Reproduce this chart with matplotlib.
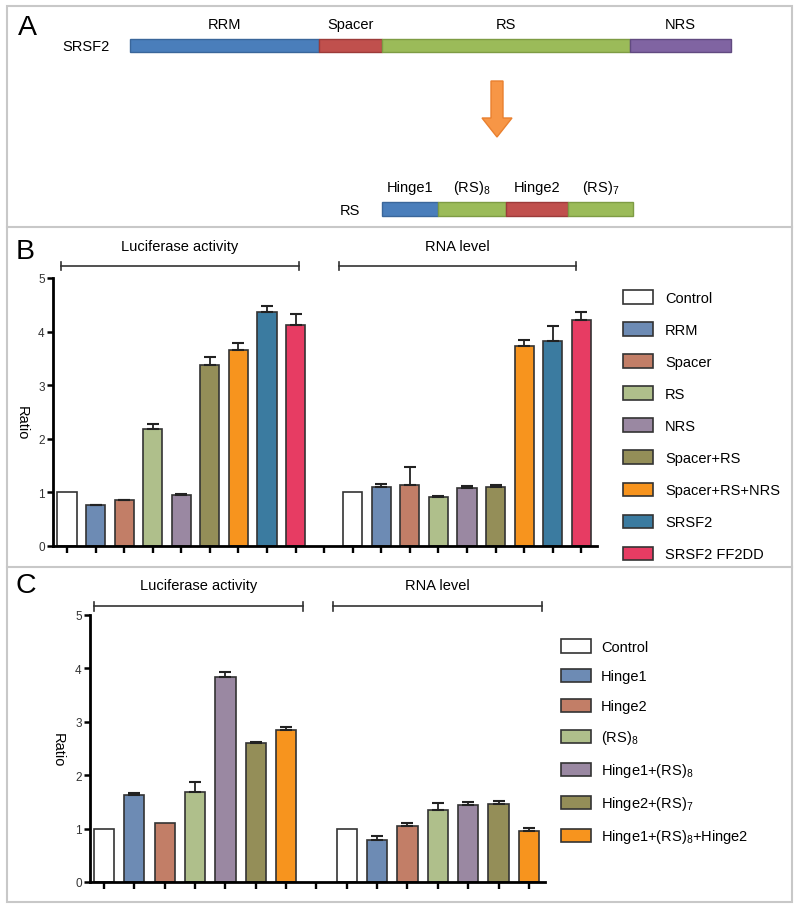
import matplotlib
matplotlib.use('Agg')
import matplotlib.pyplot as plt
from matplotlib.patches import Rectangle, FancyArrow
import numpy as np

plt.rcParams['font.family'] = ['Liberation Sans', 'DejaVu Sans']
plt.rcParams['mathtext.fontset'] = 'custom'
plt.rcParams['mathtext.rm'] = 'Liberation Sans'

# ---------------- data ----------------
# Panel A (relative domain lengths)
srsf2_domains = ['RRM', 'Spacer', 'RS', 'NRS']
srsf2_lengths = [189, 63, 248, 101]
rs_domains = ['Hinge1', '(RS)$_\\mathregular{8}$', 'Hinge2', '(RS)$_\\mathregular{7}$']
rs_lengths = [56, 68, 62, 65]

# Panel B
b_labels = ['Control', 'RRM', 'Spacer', 'RS', 'NRS', 'Spacer+RS',
            'Spacer+RS+NRS', 'SRSF2', 'SRSF2 FF2DD']
b_luc = [1.00, 0.76, 0.85, 2.18, 0.955, 3.37, 3.66, 4.37, 4.13]
b_luc_err = [0, 0.01, 0.01, 0.10, 0.01, 0.15, 0.12, 0.11, 0.20]
b_rna = [1.00, 1.10, 1.13, 0.905, 1.08, 1.10, 3.73, 3.83, 4.22]
b_rna_err = [0, 0.06, 0.35, 0.025, 0.04, 0.04, 0.11, 0.27, 0.14]

# Panel C
c_labels = ['Control', 'Hinge1', 'Hinge2', '(RS)$_\\mathregular{8}$',
            'Hinge1+(RS)$_\\mathregular{8}$', 'Hinge2+(RS)$_\\mathregular{7}$',
            'Hinge1+(RS)$_\\mathregular{8}$+Hinge2']
c_luc = [1.00, 1.625, 1.10, 1.69, 3.84, 2.60, 2.84]
c_luc_err = [0, 0.05, 0, 0.19, 0.10, 0.03, 0.06]
c_rna = [1.00, 0.78, 1.04, 1.34, 1.44, 1.47, 0.96]
c_rna_err = [0, 0.08, 0.06, 0.14, 0.05, 0.04, 0.05]

group_titles = ['Luciferase activity', 'RNA level']

# ---------------- styles ----------------
dom_colors = ['#4A7EBB', '#C0504D', '#9BBB59', '#8064A2']
dom_edges = ['#3A669A', '#9C3B39', '#7E9C44', '#614A80']
rs_colors = ['#4A7EBB', '#9BBB59', '#C0504D', '#9BBB59']
rs_edges = ['#3A669A', '#7E9C44', '#9C3B39', '#7E9C44']
b_colors = ['#FFFFFF', '#6D8BB4', '#C27E67', '#AFBF8B', '#9A88A2',
            '#948E58', '#F7941E', '#3B7BA0', '#E73C63']
c_colors = b_colors[:7]

W, H = 800, 912
fig = plt.figure(figsize=(W / 100, H / 100), dpi=100)

def frac(x0, y0, x1, y1):
    return [x0 / W, 1 - y1 / H, (x1 - x0) / W, (y1 - y0) / H]

# background axes in pixel coordinates
bg = fig.add_axes([0, 0, 1, 1])
bg.set_xlim(0, W)
bg.set_ylim(H, 0)
bg.axis('off')

border = '#C8C8C8'
bg.add_patch(Rectangle((7, 7), 785, 896, fill=False, ec=border, lw=1.5))
bg.plot([7, 792], [228, 228], color=border, lw=1.5)
bg.plot([7, 792], [568, 568], color=border, lw=1.5)

fs = 10.5
bg.text(27, 28, 'A', fontsize=20.5, ha='center', va='center')
bg.text(25, 252, 'B', fontsize=20.5, ha='center', va='center')
bg.text(26, 586, 'C', fontsize=20.5, ha='center', va='center')

# Panel A: SRSF2 domains
left = 130 + np.concatenate([[0], np.cumsum(srsf2_lengths)[:-1]])
bg.barh(46.5, srsf2_lengths, left=left, height=13, color=dom_colors,
        edgecolor=dom_edges, linewidth=1)
for name, l, w in zip(srsf2_domains, left, srsf2_lengths):
    bg.text(l + w / 2, 25, name, fontsize=fs, ha='center', va='center')
bg.text(86, 47, 'SRSF2', fontsize=fs, ha='center', va='center')

bg.add_patch(FancyArrow(497, 82, 0, 56, width=12, head_width=30,
                        head_length=19, length_includes_head=True,
                        fc='#F79646', ec='#E9802F', lw=1))

left2 = 382 + np.concatenate([[0], np.cumsum(rs_lengths)[:-1]])
bg.barh(210, rs_lengths, left=left2, height=14, color=rs_colors,
        edgecolor=rs_edges, linewidth=1)
for name, l, w in zip(rs_domains, left2, rs_lengths):
    bg.text(l + w / 2, 188, name, fontsize=fs, ha='center', va='center')
bg.text(350, 211, 'RS', fontsize=fs, ha='center', va='center')


def bar_panel(ax, luc, luc_err, rna, rna_err, colors, xlim, brackets):
    n = len(luc)
    pos_l = np.arange(n)
    pos_r = np.arange(n) + n + 1
    for pos, vals, errs in [(pos_l, luc, luc_err), (pos_r, rna, rna_err)]:
        ax.bar(pos, vals, width=0.67, color=colors, edgecolor='#333333',
               linewidth=1.2, zorder=2)
        e = np.array(errs)
        m = e > 0
        v = np.array(vals)
        ax.errorbar(pos[m], v[m], yerr=[np.zeros(m.sum()), e[m]], fmt='none',
                    ecolor='#222222', elinewidth=1.3, capsize=4, capthick=1.5,
                    zorder=3)
    ax.set_xlim(*xlim)
    ax.set_ylim(0, 5)
    ax.set_xticks(np.arange(2 * n + 1))
    ax.set_xticklabels([])
    ax.set_yticks(range(6))
    ax.tick_params(axis='y', direction='out', length=4, width=1.8,
                   labelsize=8.5, labelcolor='#333333', pad=2)
    ax.tick_params(axis='x', direction='out', length=5, width=1.7)
    for s in ['top', 'right']:
        ax.spines[s].set_visible(False)
    for s in ['left', 'bottom']:
        ax.spines[s].set_linewidth(2)
    ax.patch.set_alpha(0)
    for (x0, x1, yb, yt), title in zip(brackets, group_titles):
        ax.plot([x0, x1], [yb, yb], color='#333333', lw=1.2, clip_on=False)
        ax.plot([x0, x0], [yb - 0.08, yb + 0.08], color='#333333', lw=1.2, clip_on=False)
        ax.plot([x1, x1], [yb - 0.08, yb + 0.08], color='#333333', lw=1.2, clip_on=False)
        ax.text((x0 + x1) / 2, yt, title, fontsize=fs, ha='center', va='center')


def legend(labels, colors, x, y, pad, spacing):
    handles = [Rectangle((0, 0), 1, 1, fc=c, ec='#333333', lw=1.2) for c in colors]
    fig.legend(handles, labels, loc='upper left',
               bbox_to_anchor=(x / W, 1 - y / H), frameon=False,
               fontsize=fs, handlelength=2.05, handleheight=1.05,
               labelspacing=spacing, handletextpad=pad, borderpad=0,
               borderaxespad=0)

# Panel B
axB = fig.add_axes(frac(53, 279, 597, 547))
bar_panel(axB, b_luc, b_luc_err, b_rna, b_rna_err, b_colors,
          (-0.49, 18.55), [(-0.21, 8.11, 5.22, 5.6), (9.51, 17.8, 5.22, 5.6)])
axB.set_ylabel('Ratio', fontsize=fs, rotation=270, va='center')
axB.yaxis.set_label_coords(-31 / 544, (547 - 423) / 268)
legend(b_labels, b_colors, 623, 291, 0.82, 1.19)

# Panel C
axC = fig.add_axes(frac(90, 616, 545, 883))
bar_panel(axC, c_luc, c_luc_err, c_rna, c_rna_err, c_colors,
          (-0.46, 14.53), [(-0.33, 6.57, 5.16, 5.57), (7.56, 14.42, 5.16, 5.57)])
axC.set_ylabel('Ratio', fontsize=fs, rotation=270, va='center')
axC.yaxis.set_label_coords(-32 / 455, (883 - 750) / 267)
legend(c_labels, c_colors, 561, 640, 0.68, 1.03)

fig.savefig('out.png', dpi=100)
